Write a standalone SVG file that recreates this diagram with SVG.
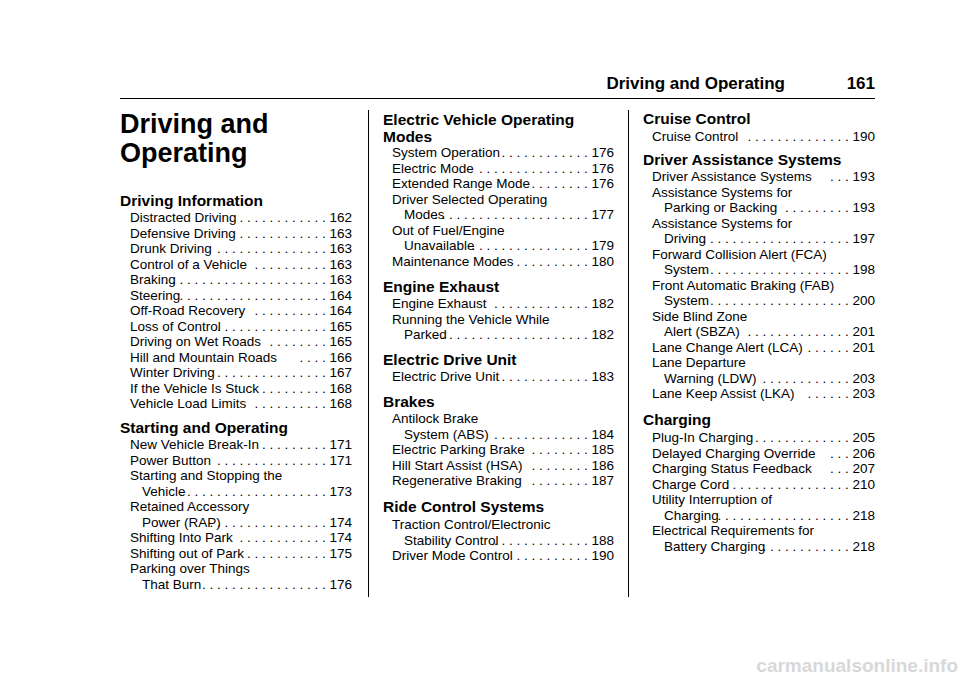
<svg xmlns="http://www.w3.org/2000/svg" width="960" height="678" viewBox="0 0 960 678">
<style>
text{font-family:"Liberation Sans",Arial,sans-serif;fill:#000}
.e{font-size:13.5px}
.n{font-size:13.5px;text-anchor:end}
.h{font-size:15.5px;font-weight:bold}
.t{font-size:27px;font-weight:bold}
.hd{font-size:17px;font-weight:bold}
</style>
<rect width="960" height="678" fill="#fff"/>
<text class="hd" x="785" y="89" text-anchor="end">Driving and Operating</text>
<text class="hd" x="875" y="89" text-anchor="end">161</text>
<line x1="120" y1="98.5" x2="875" y2="98.5" stroke="#000" stroke-width="1"/>
<line x1="368.5" y1="110" x2="368.5" y2="597" stroke="#000" stroke-width="1"/>
<line x1="628.5" y1="110" x2="628.5" y2="597" stroke="#000" stroke-width="1"/>
<text class="t" x="120" y="133">Driving and</text>
<text class="t" x="120" y="162">Operating</text>
<g id="col1">
<text class="h" x="120" y="206">Driving Information</text>
<text class="e" x="130" y="222">Distracted Driving</text><text class="n" x="352" y="222">. . . . . . . . . . . . 162</text>
<text class="e" x="130" y="237.5">Defensive Driving</text><text class="n" x="352" y="237.5">. . . . . . . . . . . . 163</text>
<text class="e" x="130" y="253">Drunk Driving</text><text class="n" x="352" y="253">. . . . . . . . . . . . . . . 163</text>
<text class="e" x="130" y="268.5">Control of a Vehicle</text><text class="n" x="352" y="268.5">. . . . . . . . . . 163</text>
<text class="e" x="130" y="284">Braking</text><text class="n" x="352" y="284">. . . . . . . . . . . . . . . . . . . . . . 163</text>
<text class="e" x="130" y="299.5">Steering</text><text class="n" x="352" y="299.5">. . . . . . . . . . . . . . . . . . . . 164</text>
<text class="e" x="130" y="315">Off-Road Recovery</text><text class="n" x="352" y="315">. . . . . . . . . . 164</text>
<text class="e" x="130" y="330.5">Loss of Control</text><text class="n" x="352" y="330.5">. . . . . . . . . . . . . . . 165</text>
<text class="e" x="130" y="346">Driving on Wet Roads</text><text class="n" x="352" y="346">. . . . . . . . 165</text>
<text class="e" x="130" y="361.5">Hill and Mountain Roads</text><text class="n" x="352" y="361.5">. . . .  166</text>
<text class="e" x="130" y="377">Winter Driving</text><text class="n" x="352" y="377">. . . . . . . . . . . . . . . 167</text>
<text class="e" x="130" y="392.5">If the Vehicle Is Stuck</text><text class="n" x="352" y="392.5">. . . . . . . . . 168</text>
<text class="e" x="130" y="408">Vehicle Load Limits</text><text class="n" x="352" y="408">. . . . . . . . . . 168</text>
<text class="h" x="120" y="433">Starting and Operating</text>
<text class="e" x="130" y="449">New Vehicle Break-In</text><text class="n" x="352" y="449">. . . . . . . . . 171</text>
<text class="e" x="130" y="464.5">Power Button</text><text class="n" x="352" y="464.5">. . . . . . . . . . . . . . . 171</text>
<text class="e" x="130" y="480">Starting and Stopping the</text>
<text class="e" x="142" y="495.5">Vehicle</text><text class="n" x="352" y="495.5">. . . . . . . . . . . . . . . . . . . . 173</text>
<text class="e" x="130" y="511">Retained Accessory</text>
<text class="e" x="142" y="526.5">Power (RAP)</text><text class="n" x="352" y="526.5">. . . . . . . . . . . . . . . . 174</text>
<text class="e" x="130" y="542">Shifting Into Park</text><text class="n" x="352" y="542">. . . . . . . . . . . . 174</text>
<text class="e" x="130" y="557.5">Shifting out of Park</text><text class="n" x="352" y="557.5">. . . . . . . . . . . 175</text>
<text class="e" x="130" y="573">Parking over Things</text>
<text class="e" x="142" y="588.5">That Burn</text><text class="n" x="352" y="588.5">. . . . . . . . . . . . . . . . . 176</text>
</g>
<g id="col2">
<text class="h" x="383" y="125">Electric Vehicle Operating</text>
<text class="h" x="383" y="142">Modes</text>
<text class="e" x="392" y="157">System Operation</text><text class="n" x="614" y="157">. . . . . . . . . . . . 176</text>
<text class="e" x="392" y="172.5">Electric Mode</text><text class="n" x="614" y="172.5">. . . . . . . . . . . . . . . 176</text>
<text class="e" x="392" y="188">Extended Range Mode</text><text class="n" x="614" y="188">. . . . . . . . 176</text>
<text class="e" x="392" y="203.5">Driver Selected Operating</text>
<text class="e" x="404" y="219">Modes</text><text class="n" x="614" y="219">. . . . . . . . . . . . . . . . . . . . . 177</text>
<text class="e" x="392" y="234.5">Out of Fuel/Engine</text>
<text class="e" x="404" y="250">Unavailable</text><text class="n" x="614" y="250">. . . . . . . . . . . . . . . . 179</text>
<text class="e" x="392" y="265.5">Maintenance Modes</text><text class="n" x="614" y="265.5">. . . . . . . . . . 180</text>
<text class="h" x="383" y="292">Engine Exhaust</text>
<text class="e" x="392" y="308">Engine Exhaust</text><text class="n" x="614" y="308">. . . . . . . . . . . . . 182</text>
<text class="e" x="392" y="323.5">Running the Vehicle While</text>
<text class="e" x="404" y="339">Parked</text><text class="n" x="614" y="339">. . . . . . . . . . . . . . . . . . . . . 182</text>
<text class="h" x="383" y="365">Electric Drive Unit</text>
<text class="e" x="392" y="381">Electric Drive Unit</text><text class="n" x="614" y="381">. . . . . . . . . . . . 183</text>
<text class="h" x="383" y="407">Brakes</text>
<text class="e" x="392" y="423">Antilock Brake</text>
<text class="e" x="404" y="438.5">System (ABS)</text><text class="n" x="614" y="438.5">. . . . . . . . . . . . . 184</text>
<text class="e" x="392" y="454">Electric Parking Brake</text><text class="n" x="614" y="454">. . . . . . . . 185</text>
<text class="e" x="392" y="469.5">Hill Start Assist (HSA)</text><text class="n" x="614" y="469.5">. . . . . . . . 186</text>
<text class="e" x="392" y="485">Regenerative Braking</text><text class="n" x="614" y="485">. . . . . . . . 187</text>
<text class="h" x="383" y="512">Ride Control Systems</text>
<text class="e" x="392" y="529">Traction Control/Electronic</text>
<text class="e" x="404" y="544.5">Stability Control</text><text class="n" x="614" y="544.5">. . . . . . . . . . . . . 188</text>
<text class="e" x="392" y="560">Driver Mode Control</text><text class="n" x="614" y="560">. . . . . . . . . . 190</text>
</g>
<g id="col3">
<text class="h" x="643" y="124">Cruise Control</text>
<text class="e" x="652" y="141">Cruise Control</text><text class="n" x="875" y="141">. . . . . . . . . . . . . . 190</text>
<text class="h" x="643" y="165">Driver Assistance Systems</text>
<text class="e" x="652" y="181">Driver Assistance Systems</text><text class="n" x="875" y="181">. . .  193</text>
<text class="e" x="652" y="196.5">Assistance Systems for</text>
<text class="e" x="664" y="212">Parking or Backing</text><text class="n" x="875" y="212">. . . . . . . . . 193</text>
<text class="e" x="652" y="227.5">Assistance Systems for</text>
<text class="e" x="664" y="243">Driving</text><text class="n" x="875" y="243">. . . . . . . . . . . . . . . . . . . . . 197</text>
<text class="e" x="652" y="258.5">Forward Collision Alert (FCA)</text>
<text class="e" x="664" y="274">System</text><text class="n" x="875" y="274">. . . . . . . . . . . . . . . . . . . . 198</text>
<text class="e" x="652" y="289.5">Front Automatic Braking (FAB)</text>
<text class="e" x="664" y="305">System</text><text class="n" x="875" y="305">. . . . . . . . . . . . . . . . . . . . 200</text>
<text class="e" x="652" y="320.5">Side Blind Zone</text>
<text class="e" x="664" y="336">Alert (SBZA)</text><text class="n" x="875" y="336">. . . . . . . . . . . . . . 201</text>
<text class="e" x="652" y="351.5">Lane Change Alert (LCA)</text><text class="n" x="875" y="351.5">. . . . . . 201</text>
<text class="e" x="652" y="367">Lane Departure</text>
<text class="e" x="664" y="382.5">Warning (LDW)</text><text class="n" x="875" y="382.5">. . . . . . . . . . . . 203</text>
<text class="e" x="652" y="398">Lane Keep Assist (LKA)</text><text class="n" x="875" y="398">. . . . . . 203</text>
<text class="h" x="643" y="425">Charging</text>
<text class="e" x="652" y="442">Plug-In Charging</text><text class="n" x="875" y="442">. . . . . . . . . . . . . 205</text>
<text class="e" x="652" y="457.5">Delayed Charging Override</text><text class="n" x="875" y="457.5">. . .  206</text>
<text class="e" x="652" y="473">Charging Status Feedback</text><text class="n" x="875" y="473">. . .  207</text>
<text class="e" x="652" y="488.5">Charge Cord</text><text class="n" x="875" y="488.5">. . . . . . . . . . . . . . . . . 210</text>
<text class="e" x="652" y="504">Utility Interruption of</text>
<text class="e" x="664" y="519.5">Charging</text><text class="n" x="875" y="519.5">. . . . . . . . . . . . . . . . . . 218</text>
<text class="e" x="652" y="535">Electrical Requirements for</text>
<text class="e" x="664" y="550.5">Battery Charging</text><text class="n" x="875" y="550.5">. . . . . . . . . . . . 218</text>
</g>
<text x="958" y="672" text-anchor="end" style="font-size:19px;font-weight:bold;fill:#d8d8d8">carmanualsonline.info</text>
</svg>
